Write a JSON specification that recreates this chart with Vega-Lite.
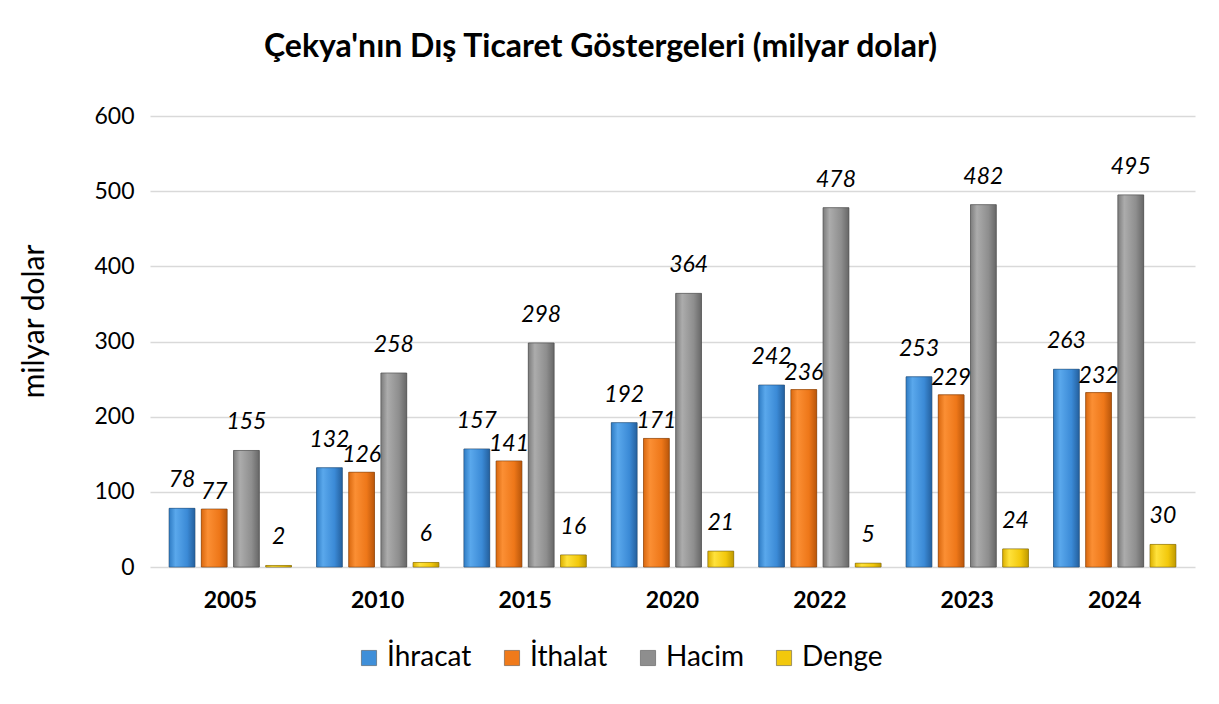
{
  "$schema": "https://vega.github.io/schema/vega-lite/v6.json",
  "width": 1045,
  "height": 451,
  "autosize": "none",
  "padding": {"left": 150, "top": 116, "right": 24, "bottom": 137},
  "background": "white",
  "title": {
    "text": "Çekya'nın Dış Ticaret Göstergeleri (milyar dolar)",
    "font": "Lato",
    "fontSize": 32,
    "fontWeight": "bold",
    "color": "#000000",
    "anchor": "middle",
    "dx": -72,
    "offset": 41
  },
  "data": {
    "values": [
      {"yil": "2005", "seri": "İhracat", "deger": 78},
      {"yil": "2005", "seri": "İthalat", "deger": 77},
      {"yil": "2005", "seri": "Hacim", "deger": 155},
      {"yil": "2005", "seri": "Denge", "deger": 2},
      {"yil": "2010", "seri": "İhracat", "deger": 132},
      {"yil": "2010", "seri": "İthalat", "deger": 126},
      {"yil": "2010", "seri": "Hacim", "deger": 258},
      {"yil": "2010", "seri": "Denge", "deger": 6},
      {"yil": "2015", "seri": "İhracat", "deger": 157},
      {"yil": "2015", "seri": "İthalat", "deger": 141},
      {"yil": "2015", "seri": "Hacim", "deger": 298},
      {"yil": "2015", "seri": "Denge", "deger": 16},
      {"yil": "2020", "seri": "İhracat", "deger": 192},
      {"yil": "2020", "seri": "İthalat", "deger": 171},
      {"yil": "2020", "seri": "Hacim", "deger": 364},
      {"yil": "2020", "seri": "Denge", "deger": 21},
      {"yil": "2022", "seri": "İhracat", "deger": 242},
      {"yil": "2022", "seri": "İthalat", "deger": 236},
      {"yil": "2022", "seri": "Hacim", "deger": 478},
      {"yil": "2022", "seri": "Denge", "deger": 5},
      {"yil": "2023", "seri": "İhracat", "deger": 253},
      {"yil": "2023", "seri": "İthalat", "deger": 229},
      {"yil": "2023", "seri": "Hacim", "deger": 482},
      {"yil": "2023", "seri": "Denge", "deger": 24},
      {"yil": "2024", "seri": "İhracat", "deger": 263},
      {"yil": "2024", "seri": "İthalat", "deger": 232},
      {"yil": "2024", "seri": "Hacim", "deger": 495},
      {"yil": "2024", "seri": "Denge", "deger": 30}
    ]
  },
  "encoding": {
    "x": {
      "field": "yil",
      "type": "nominal",
      "scale": {"paddingInner": 0.17, "paddingOuter": 0.13},
      "axis": {
        "title": null,
        "labelAngle": 0,
        "labelFont": "Lato",
        "labelFontSize": 23,
        "labelFontWeight": "bold",
        "labelColor": "#000000",
        "labelPadding": 22,
        "ticks": false,
        "domain": false
      }
    },
    "xOffset": {
      "field": "seri",
      "type": "nominal",
      "sort": ["İhracat", "İthalat", "Hacim", "Denge"],
      "scale": {"paddingInner": 0.2, "paddingOuter": 0}
    },
    "y": {
      "field": "deger",
      "type": "quantitative",
      "scale": {"domain": [0, 600], "nice": false},
      "axis": {
        "title": "milyar dolar",
        "titleFont": "Lato",
        "titleFontSize": 30,
        "titleFontWeight": "normal",
        "titleColor": "#000000",
        "titlePadding": 44,
        "titleY": 205,
        "values": [0, 100, 200, 300, 400, 500, 600],
        "labelFont": "Lato",
        "labelFontSize": 23,
        "labelColor": "#000000",
        "labelPadding": 16,
        "ticks": false,
        "domain": false,
        "grid": true,
        "gridColor": "#d9d9d9",
        "gridWidth": 1.5
      }
    }
  },
  "layer": [
    {
      "mark": {"type": "bar", "stroke": "#3a3a3a", "strokeOpacity": 0.35, "strokeWidth": 1},
      "encoding": {
        "color": {
          "field": "seri",
          "type": "nominal",
          "sort": ["İhracat", "İthalat", "Hacim", "Denge"],
          "scale": {
            "domain": ["İhracat", "İthalat", "Hacim", "Denge"],
            "range": ["#3f8fd9", "#f07a1a", "#8e8e8e", "#f2c80c"]
          },
          "legend": {
            "title": null,
            "orient": "none",
            "direction": "horizontal",
            "legendX": 205,
            "legendY": 528,
            "symbolType": "square",
            "symbolSize": 230,
            "symbolStrokeColor": "#444444",
            "symbolStrokeWidth": 0.5,
            "labelFont": "Lato",
            "labelFontSize": 28,
            "labelColor": "#000000",
            "labelOffset": 4,
            "columnPadding": 26
          }
        }
      }
    },
    {
      "transform": [{"filter": "datum.seri === 'İhracat'"}],
      "mark": {"type": "bar", "color": {"gradient": "linear", "x1": 0, "x2": 1, "y1": 0, "y2": 0, "stops": [{"offset": 0, "color": "#2f7cc4"}, {"offset": 0.25, "color": "#5aa8ec"}, {"offset": 0.7, "color": "#3b8ad6"}, {"offset": 1, "color": "#24609e"}]}, "stroke": "#1f4f80", "strokeOpacity": 0.5, "strokeWidth": 1},
      "encoding": {}
    },
    {
      "transform": [{"filter": "datum.seri === 'İthalat'"}],
      "mark": {"type": "bar", "color": {"gradient": "linear", "x1": 0, "x2": 1, "y1": 0, "y2": 0, "stops": [{"offset": 0, "color": "#d9680f"}, {"offset": 0.25, "color": "#fb8f34"}, {"offset": 0.7, "color": "#ee7719"}, {"offset": 1, "color": "#b9560a"}]}, "stroke": "#8a4006", "strokeOpacity": 0.5, "strokeWidth": 1},
      "encoding": {}
    },
    {
      "transform": [{"filter": "datum.seri === 'Hacim'"}],
      "mark": {"type": "bar", "color": {"gradient": "linear", "x1": 0, "x2": 1, "y1": 0, "y2": 0, "stops": [{"offset": 0, "color": "#7c7c7c"}, {"offset": 0.25, "color": "#acacac"}, {"offset": 0.7, "color": "#8e8e8e"}, {"offset": 1, "color": "#676767"}]}, "stroke": "#4a4a4a", "strokeOpacity": 0.5, "strokeWidth": 1},
      "encoding": {}
    },
    {
      "transform": [{"filter": "datum.seri === 'Denge'"}],
      "mark": {"type": "bar", "color": {"gradient": "linear", "x1": 0, "x2": 1, "y1": 0, "y2": 0, "stops": [{"offset": 0, "color": "#dcb000"}, {"offset": 0.25, "color": "#ffe23c"}, {"offset": 0.7, "color": "#f2c80c"}, {"offset": 1, "color": "#c09a00"}]}, "stroke": "#8a6e00", "strokeOpacity": 0.5, "strokeWidth": 1},
      "encoding": {}
    },
    {
      "transform": [{"filter": "datum.seri !== 'İthalat'"}],
      "mark": {
        "type": "text",
        "font": "Lato",
        "fontSize": 23,
        "fontStyle": "italic",
        "color": "#000000",
        "baseline": "middle",
        "dy": -28
      },
      "encoding": {"text": {"field": "deger", "type": "quantitative"}}
    },
    {
      "transform": [{"filter": "datum.seri === 'İthalat'"}],
      "mark": {
        "type": "text",
        "font": "Lato",
        "fontSize": 23,
        "fontStyle": "italic",
        "color": "#000000",
        "baseline": "middle",
        "dy": -17
      },
      "encoding": {"text": {"field": "deger", "type": "quantitative"}}
    }
  ],
  "config": {
    "view": {"stroke": null}
  }
}
